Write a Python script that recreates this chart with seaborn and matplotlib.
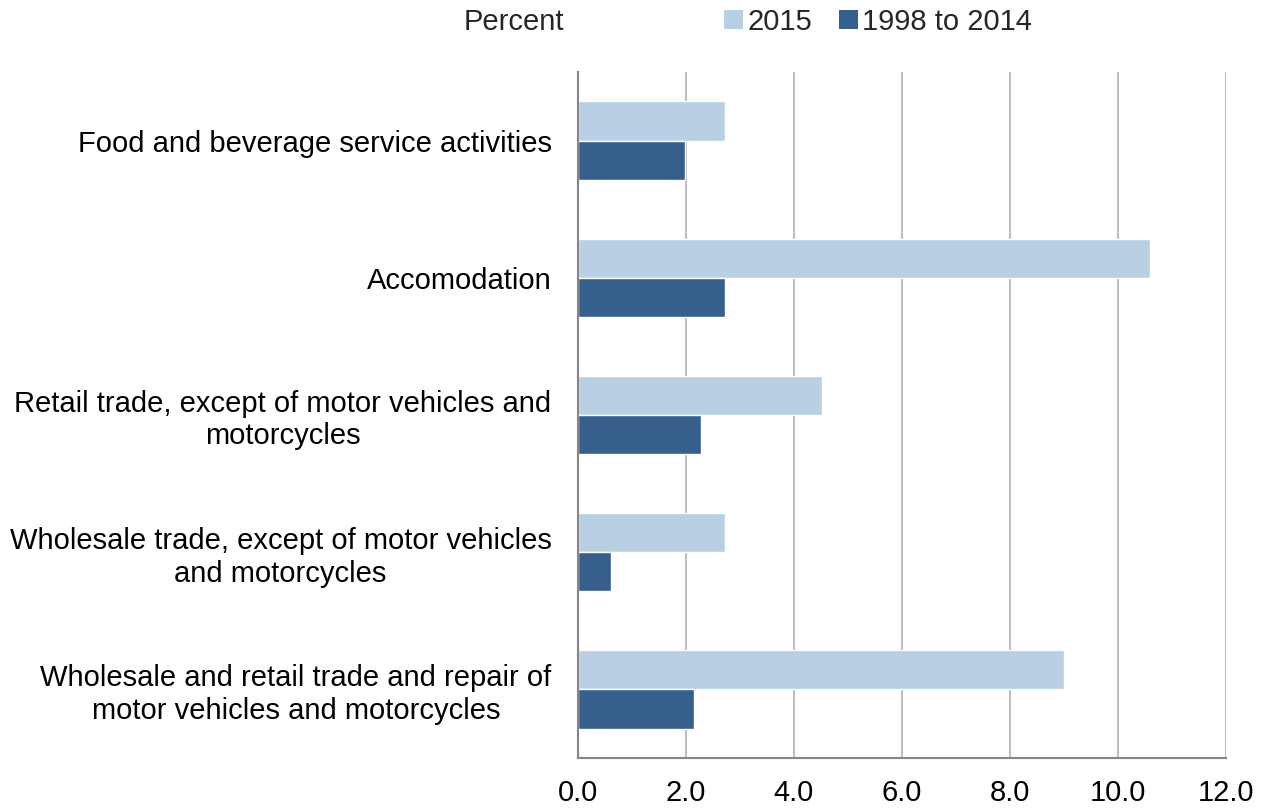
import matplotlib
matplotlib.use("Agg")
import matplotlib.pyplot as plt
import seaborn as sns
import pandas as pd
from matplotlib.patches import Patch

categories = [
    "Food and beverage service activities",
    "Accomodation",
    "Retail trade, except of motor vehicles and\nmotorcycles",
    "Wholesale trade, except of motor vehicles\nand motorcycles",
    "Wholesale and retail trade and repair of\nmotor vehicles and motorcycles",
]
series_names = ["2015", "1998 to 2014"]
values_2015 = [2.72, 10.59, 4.51, 2.73, 9.0]
values_1998_2014 = [1.99, 2.72, 2.28, 0.62, 2.14]
x_ticks = [0.0, 2.0, 4.0, 6.0, 8.0, 10.0, 12.0]

colors = {"2015": "#B9D0E4", "1998 to 2014": "#365F8E"}

df = pd.DataFrame({
    "category": categories * 2,
    "series": [series_names[0]] * len(categories) + [series_names[1]] * len(categories),
    "value": values_2015 + values_1998_2014,
})

sns.set_style("white")
plt.rcParams["font.family"] = ["Liberation Sans", "DejaVu Sans"]
FS = 21

fig = plt.figure(figsize=(12.61, 8.10), dpi=100)
ax = fig.add_axes([578 / 1261, 1 - 758 / 810, (1226 - 578) / 1261, (758 - 72) / 810])

sns.barplot(data=df, y="category", x="value", hue="series", order=categories,
            hue_order=series_names, palette=colors, orient="h", width=0.57,
            gap=0, ax=ax, legend=False, errorbar=None, saturation=1)

ax.set_xlim(0, 12)
ax.set_ylim(len(categories) - 0.5, -0.5)
ax.set_xticks(x_ticks)
ax.set_xticklabels([f"{t:.1f}" for t in x_ticks], fontsize=FS, color="#000000")
ax.set_yticks(range(len(categories)))
ax.set_yticklabels(categories, fontsize=FS, color="#000000", multialignment="center")
ax.set_yticks([i - 0.5 for i in range(len(categories) + 1)], minor=True)
ax.tick_params(axis="y", which="major", length=0, pad=19)
ax.tick_params(axis="y", which="minor", length=7, width=1.5, color="#868686", direction="out")
ax.tick_params(axis="x", which="major", length=7, width=1.5, color="#868686", direction="out", pad=8)
ax.set_xlabel("")
ax.set_ylabel("")

ax.grid(axis="x", color="#BFBFBF", linewidth=1.5)
ax.grid(axis="y", visible=False)
ax.set_axisbelow(True)
for s in ["top", "right"]:
    ax.spines[s].set_visible(False)
for s in ["left", "bottom"]:
    ax.spines[s].set_color("#868686")
    ax.spines[s].set_linewidth(1.5)

fig.text(514 / 1261, 1 - 22 / 810, "Percent", fontsize=FS, ha="center", va="center")
handles = [Patch(facecolor=colors[n], edgecolor="none") for n in series_names]
fig.legend(handles, series_names, loc="center", bbox_to_anchor=(878 / 1261, 1 - 22 / 810),
           ncol=2, frameon=False, fontsize=FS, handlelength=0.65, handleheight=0.65,
           handletextpad=0.15, columnspacing=0.9, borderaxespad=0, borderpad=0)

fig.savefig("out.png", dpi=100)
